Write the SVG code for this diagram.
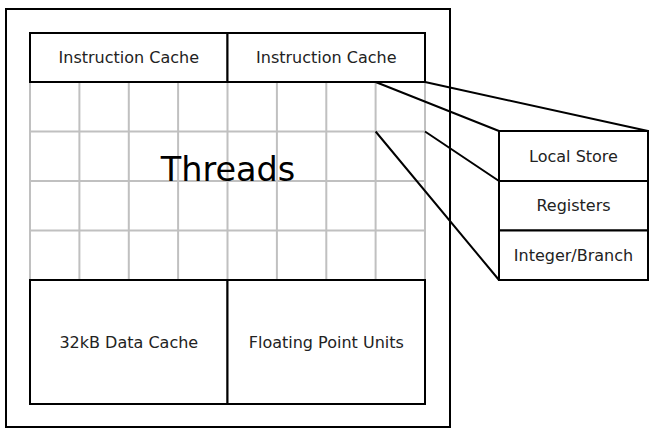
<svg xmlns="http://www.w3.org/2000/svg" width="658" height="434" viewBox="0 0 658 434">
<style>
.box{fill:#fff;stroke:#000;stroke-width:2}
.grid{stroke:#c0c0c0;stroke-width:2;fill:none}
.lbl{font-family:"DejaVu Sans",sans-serif;font-size:16px;fill:#222;text-anchor:middle;dominant-baseline:central}
.big{font-family:"DejaVu Sans",sans-serif;font-size:33.5px;fill:#000;text-anchor:middle}
.conn{stroke:#000;stroke-width:2;fill:none}
</style>
<rect width="658" height="434" fill="#fff"/>
<g id="outer"><rect class="box" x="6" y="9" width="444" height="418"/></g>
<g id="threads">
<path class="grid" d="M30 82V280M79.4 82V280M128.8 82V280M178.1 82V280M227.5 82V280M276.9 82V280M326.3 82V280M375.6 82V280M425 82V280M30 131.5H425M30 181H425M30 230.5H425"/>
<text class="big" x="228" y="181">Threads</text>
</g>
<g id="icache1"><rect class="box" x="30" y="33" width="197.5" height="49"/><text class="lbl" x="128.8" y="57.5">Instruction Cache</text></g>
<g id="icache2"><rect class="box" x="227.5" y="33" width="197.5" height="49"/><text class="lbl" x="326.3" y="57.5">Instruction Cache</text></g>
<g id="dcache"><rect class="box" x="30" y="280" width="197.5" height="124"/><text class="lbl" x="128.8" y="342">32kB Data Cache</text></g>
<g id="fpu"><rect class="box" x="227.5" y="280" width="197.5" height="124"/><text class="lbl" x="326.3" y="342">Floating Point Units</text></g>
<g id="connectors">
<path class="conn" d="M375.6 82L499 131M425 82L648 131M425 131.5L499 181M375.6 131.5L499 280"/>
</g>
<g id="localstore"><rect class="box" x="499" y="131" width="149" height="50"/><text class="lbl" x="573.5" y="156">Local Store</text></g>
<g id="registers"><rect class="box" x="499" y="181" width="149" height="49.5"/><text class="lbl" x="573.5" y="205.5">Registers</text></g>
<g id="intbranch"><rect class="box" x="499" y="230.5" width="149" height="49.5"/><text class="lbl" x="573.5" y="255">Integer/Branch</text></g>
</svg>
